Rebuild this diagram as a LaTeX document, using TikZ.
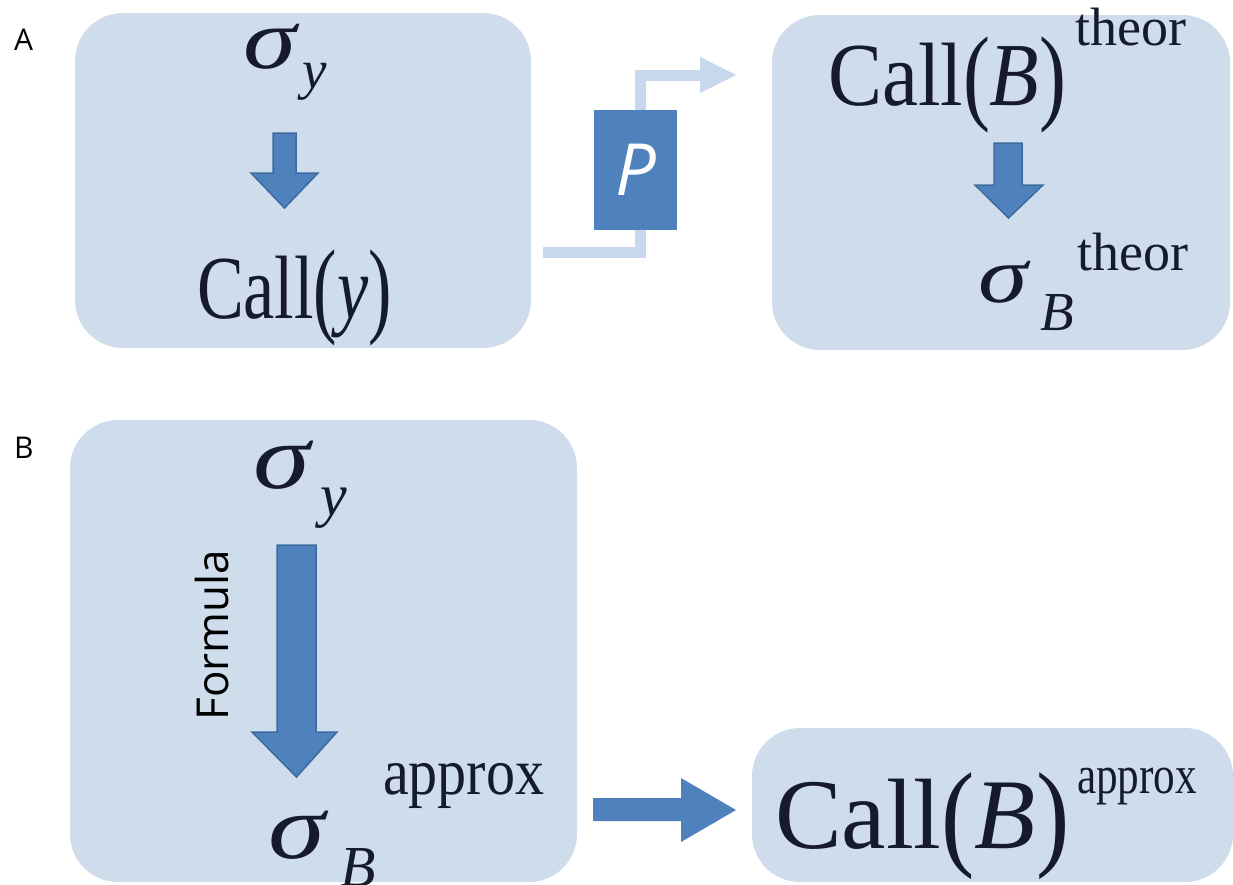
\documentclass[tikz,border=0pt]{standalone}
\usepackage{fontspec}
\setmainfont{Liberation Serif}
\newfontfamily\sansf{Open Sans}
\usepackage{graphicx}
\definecolor{boxfill}{HTML}{CFDCEC}
\definecolor{arrowblue}{HTML}{4F81BD}
\definecolor{arrowedge}{HTML}{3D6B9F}
\definecolor{linelight}{HTML}{C6D7EE}
\definecolor{textdark}{HTML}{151B2B}
\newcommand{\fs}[1]{\fontsize{#1}{#1}\selectfont}
\newcommand{\sx}[2]{\scalebox{#1}[1]{#2}}
\newcommand{\tp}[1]{\raisebox{-0.06em}{\scalebox{1}[1.18]{#1}}}
\begin{document}
\begin{tikzpicture}[x=1pt,y=-1pt,
  panel/.style={fill=boxfill, rounded corners=48pt},
  blk/.style={fill=arrowblue, draw=arrowedge, line width=1.5pt, line join=miter},
  txt/.style={inner sep=0pt, outer sep=0pt, anchor=base west, text=textdark},
  lbl/.style={inner sep=0pt, anchor=base west, text=black, font=\sansf\fs{30}},
  link/.style={draw=linelight, line width=11pt}]
\useasboundingbox (0,0) rectangle (1233,884);
% panels
\path[panel] (75,13) rectangle (531,348);
\path[panel] (772,15) rectangle (1230,350);
\path[panel] (70,420) rectangle (577,882);
\path[panel] (752,728) rectangle (1233,882);
% labels
\node[lbl] (la) at (14,50) {A};
\node[lbl] (lb) at (14,458) {B};
% panel A1
\node[txt] (a1s) at (243,68) {\fs{86}\sx{1.25}{\itshape σ}};
\node[txt] (a1y) at (302,88) {\fs{55}\itshape y};
\path[blk] (273,133) -- (296,133) -- (296,173) -- (318,173) -- (284.5,208) -- (251,173) -- (273,173) -- cycle;
\node[txt] (a1c) at (197,318) {\fs{90}\sx{0.78}{Call\tp{(}\textit{y}\tp{)}}};
% connector with P
\coordinate (c0) at (543,252);
\coordinate (c1) at (700,75);
\draw[link] (c0) -- (640,252) -- (640,75) -- (c1);
\fill[linelight] (700,57) -- (736,75) -- (700,93) -- cycle;
\node[fill=arrowblue, minimum width=83pt, minimum height=120pt, inner sep=0pt, text=white, font=\sansf\itshape\fs{72}] (pbox) at (635.5,170) {P};
% panel A2
\node[txt] (a2c) at (828,105) {\fs{90}\sx{0.9}{Call\tp{(}\textit{B}\tp{)}}};
\node[txt] (a2t) at (1075,45) {\fs{54}theor};
\path[blk] (994,143) -- (1022,143) -- (1022,185) -- (1043,185) -- (1008.5,218) -- (975,185) -- (994,185) -- cycle;
\node[txt] (a2s) at (978,302) {\fs{80}\sx{1.25}{\itshape σ}};
\node[txt] (a2b) at (1040,330) {\fs{55}\itshape B};
\node[txt] (a2u) at (1077,270) {\fs{54}theor};
% panel B1
\node[txt] (b1s) at (253,488) {\fs{92}\sx{1.25}{\itshape σ}};
\node[txt] (b1y) at (320,515) {\fs{60}\itshape y};
\path[blk] (277,545) -- (316,545) -- (316,732) -- (337,732) -- (296.5,777) -- (252,732) -- (277,732) -- cycle;
\node[inner sep=0pt, rotate=90, font=\sansf\fs{44}, text=black] (form) at (212,635) {Formula};
\node[txt] (b1b) at (268,858) {\fs{92}\sx{1.25}{\itshape σ}};
\node[txt] (b1bb) at (340,886) {\fs{58}\itshape B};
\node[txt] (b1a) at (383,794) {\fs{66}\sx{0.88}{approx}};
% arrow to B2
\path[blk, draw=none] (593,798) -- (681,798) -- (681,778) -- (736,810) -- (681,842) -- (681,821) -- (593,821) -- cycle;
% panel B2
\node[txt] (b2c) at (775,848) {\fs{100}\sx{1.0}{Call\tp{(}\textit{B}\tp{)}}};
\node[txt] (b2a) at (1077,793) {\fs{54}\sx{0.8}{approx}};
\end{tikzpicture}
\end{document}
